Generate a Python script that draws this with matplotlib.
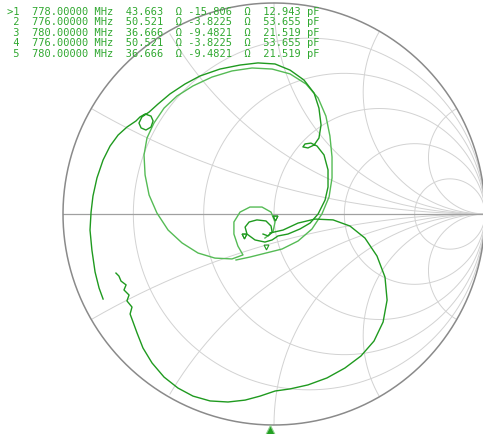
import matplotlib
matplotlib.use("Agg")
import matplotlib.pyplot as plt
import numpy as np

# grid values of the Smith chart
R_GRID = [0.2, 0.5, 1.0, 2.0, 5.0]
X_GRID = [0.268, 0.577, 1.0, 1.732, 3.732]
Z0 = 50.0

# marker table
MK_LABEL = [">1", " 2", " 3", " 4", " 5"]
MK_FREQ = ["778.00000", "776.00000", "780.00000", "776.00000", "780.00000"]
MK_R = [43.663, 50.521, 36.666, 50.521, 36.666]
MK_X = [-15.806, -3.8225, -9.4821, -3.8225, -9.4821]
MK_X_TXT = ["-15.806", "-3.8225", "-9.4821", "-3.8225", "-9.4821"]
MK_C = ["12.943", "53.655", "21.519", "53.655", "21.519"]

# trace, reflection coefficient read off the chart (real, imag)
# left piece, small loop, upper arc, hook, down into centre
A_RE = [-0.810, -0.829, -0.848, -0.863, -0.872, -0.867, -0.858, -0.839, -0.810, -0.777,
        -0.739, -0.697, -0.654,
        -0.635, -0.611, -0.583, -0.573, -0.583, -0.607, -0.630, -0.640, -0.626, -0.592,
        -0.550, -0.493, -0.422, -0.351, -0.256, -0.161, -0.076, 0.005, 0.076, 0.142,
        0.190, 0.213, 0.223, 0.213, 0.190,
        0.161, 0.137, 0.147, 0.175, 0.204,
        0.237, 0.256, 0.256, 0.242, 0.209, 0.171, 0.123, 0.066, 0.019,
        -0.009, -0.043, -0.090, -0.128, -0.137, -0.118, -0.081, -0.038, -0.014, -0.009,
        -0.028, -0.052]
A_IM = [-0.403, -0.351, -0.275, -0.171, -0.076, 0.009, 0.085, 0.171, 0.256, 0.322,
        0.374, 0.412, 0.441,
        0.460, 0.474, 0.464, 0.441, 0.412, 0.398, 0.408, 0.431, 0.460, 0.483,
        0.521, 0.569, 0.616, 0.654, 0.687, 0.706, 0.716, 0.711, 0.682, 0.635,
        0.573, 0.502, 0.422, 0.360, 0.327,
        0.313, 0.318, 0.332, 0.336, 0.322,
        0.280, 0.209, 0.128, 0.066, 0.000, -0.043, -0.071, -0.095, -0.104,
        -0.123, -0.133, -0.123, -0.095, -0.062, -0.038, -0.028, -0.033, -0.057, -0.085,
        -0.104, -0.095]

# big loop and outer spiral
B_RE = [-0.043, -0.005, 0.005, -0.014, -0.057, -0.114, -0.161, -0.190, -0.190, -0.171,
        -0.147, -0.199, -0.280, -0.360, -0.436, -0.502, -0.555, -0.592, -0.611, -0.616,
        -0.602, -0.569, -0.521, -0.460, -0.384, -0.294, -0.199, -0.104, -0.009, 0.076,
        0.152, 0.209, 0.246, 0.265, 0.275, 0.275, 0.261, 0.227, 0.180, 0.114,
        0.038, -0.038, -0.114, -0.180]
B_IM = [-0.114, -0.085, -0.038, 0.009, 0.033, 0.033, 0.009, -0.038, -0.095, -0.152,
        -0.194, -0.213, -0.209, -0.185, -0.137, -0.076, 0.005, 0.090, 0.185, 0.280,
        0.360, 0.431, 0.502, 0.559, 0.607, 0.649, 0.678, 0.692, 0.687, 0.664,
        0.616, 0.550, 0.464, 0.370, 0.270, 0.171, 0.081, 0.000, -0.071, -0.128,
        -0.166, -0.185, -0.204, -0.218]

# lower right arc ending in the noisy piece on the left
C_RE = [-0.019, 0.043, 0.114, 0.194, 0.280, 0.360, 0.431, 0.488, 0.526, 0.536,
        0.517, 0.474, 0.412, 0.336, 0.251, 0.161, 0.076, 0.005, -0.066, -0.137,
        -0.218, -0.303, -0.384, -0.455, -0.521, -0.578, -0.621, -0.649, -0.668,
        -0.682, -0.673, -0.697, -0.687, -0.711, -0.701, -0.725, -0.735, -0.749]
C_IM = [-0.090, -0.076, -0.043, -0.024, -0.028, -0.057, -0.114, -0.199, -0.299, -0.408,
        -0.512, -0.602, -0.673, -0.730, -0.777, -0.810, -0.829, -0.839, -0.863, -0.882,
        -0.891, -0.886, -0.863, -0.825, -0.773, -0.706, -0.635, -0.564, -0.512,
        -0.474, -0.441, -0.412, -0.384, -0.360, -0.336, -0.318, -0.294, -0.280]

GRID = "#d2d2d2"
EDGE = "#8a8a8a"
DARK = "#1f9a1f"
LIGHT = "#55bb55"


def gamma(z):
    return (z - 1) / (z + 1)


fig = plt.figure(figsize=(4.83, 4.34), dpi=100)
ax = fig.add_axes([0, 0, 1, 1])
ax.set_xlim(-274 / 211, 209 / 211)
ax.set_ylim(-220 / 211, 214 / 211)
ax.axis("off")

t = np.linspace(0, 2 * np.pi, 721)

# constant resistance circles
for r in R_GRID:
    c, rad = r / (1 + r), 1 / (1 + r)
    ax.plot(c + rad * np.cos(t), rad * np.sin(t), color=GRID, lw=0.7, zorder=1)

# constant reactance arcs, clipped to the unit circle
for x in X_GRID:
    for s in (1, -1):
        gx = 1 + np.cos(t) / x
        gy = s / x + np.sin(t) / x
        m = gx ** 2 + gy ** 2 > 1.0001
        gx, gy = gx.copy(), gy.copy()
        gx[m] = np.nan
        gy[m] = np.nan
        ax.plot(gx, gy, color=GRID, lw=0.7, zorder=1)

ax.plot([-1, 1], [0, 0], color="#a0a0a0", lw=0.9, zorder=2)
ax.plot(np.cos(t), np.sin(t), color=EDGE, lw=1.1, zorder=2)

# trace
ax.plot(B_RE, B_IM, color=LIGHT, lw=1.0, zorder=3)
ax.plot(A_RE, A_IM, color=DARK, lw=1.0, zorder=4)
ax.plot(C_RE, C_IM, color=DARK, lw=1.0, zorder=4)

# markers placed from their impedance
zm = (np.array(MK_R) + 1j * np.array(MK_X)) / Z0
gm = gamma(zm)
ax.plot(gm.real, gm.imag + 0.02, ls="none", marker="v", ms=3.5, mfc="none",
        mec=DARK, mew=0.8, zorder=5)

# stimulus triangle at the bottom edge
ax.plot([-0.019], [-1.03], marker="^", ms=9, color="#22a022", mec="#8fd08f",
        mew=0.8, zorder=5)

# marker readout
for i in range(len(MK_LABEL)):
    row = "%s  %s MHz  %.3f  Ω %s  Ω  %s pF" % (MK_LABEL[i], MK_FREQ[i], MK_R[i],
                                               MK_X_TXT[i], MK_C[i])
    fig.text(7 / 483, 1 - (12 + 10.4 * i) / 434, row, family="DejaVu Sans Mono",
             fontsize=7.5, color="#30a830", va="center", ha="left")

fig.savefig("out.png", dpi=100)
